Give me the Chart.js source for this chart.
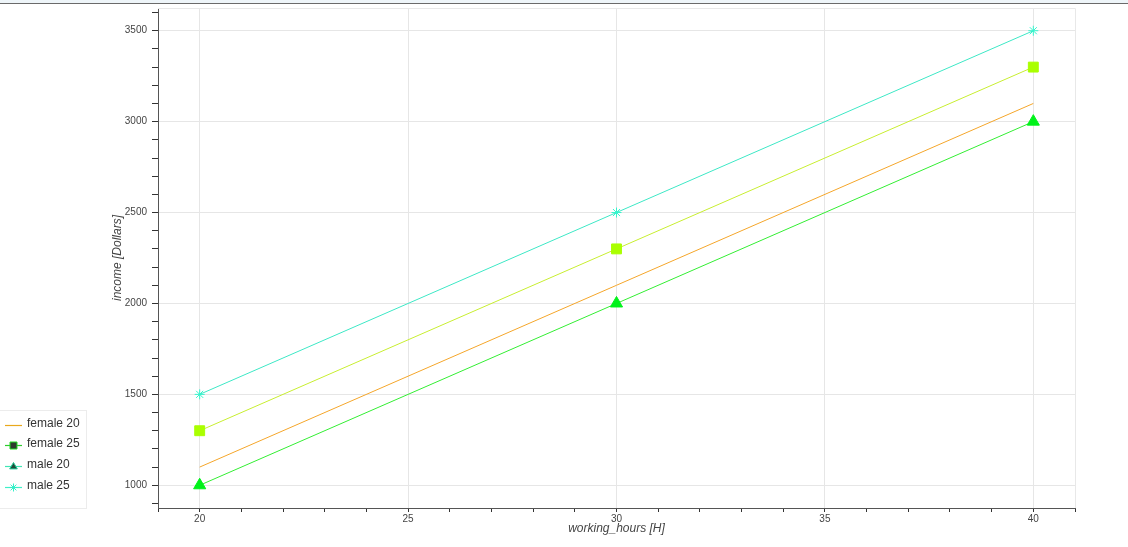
<!DOCTYPE html>
<html>
<head>
<meta charset="utf-8">
<script src="https://cdn.jsdelivr.net/npm/chart.js@4/dist/chart.umd.min.js"></script>
<style>
  html, body { margin: 0; padding: 0; background: #ffffff; }
  #wrap { position: relative; width: 1128px; height: 547px; }
  #topbar { position: absolute; left: 0; top: 0; width: 1128px; height: 3px; background: #eef5f9; border-bottom: 1px solid #6a6a6a; }
  canvas { display: block; }
</style>
</head>
<body>
<div id="wrap">
  <canvas id="c" width="1128" height="547"></canvas>
  <div id="topbar"></div>
</div>
<script>
// ---- data ----
const hours = [20, 30, 40];
const female20 = [1100, 2100, 3100];
const female25 = [1300, 2300, 3300];
const male20 = [1000, 2000, 3000];
const male25 = [1500, 2500, 3500];
const seriesNames = ['female 20', 'female 25', 'male 20', 'male 25'];
const xMajorTicks = [20, 25, 30, 35, 40];
const yMajorTicks = [1000, 1500, 2000, 2500, 3000, 3500];
const xTitle = 'working_hours [H]';
const yTitle = 'income [Dollars]';

const toPts = vals => hours.map((h, i) => ({ x: h, y: vals[i] }));

const FONT = '"Liberation Sans", Arial, Helvetica, sans-serif';

// legend appearance (as drawn in the reference)
const legendStyles = [
  { line: '#e9a81c', marker: null },
  { line: '#2ecc2e', marker: 'rect', fill: '#2f3a2f', stroke: '#22dd22' },
  { line: '#3fe6b4', marker: 'triangle', fill: '#1e4d3a', stroke: '#22cc99' },
  { line: '#3ff0c8', marker: 'star', fill: '#33f0c8', stroke: '#33f0c8' }
];

function drawMarker(ctx, type, x, y, r, fill, stroke) {
  ctx.save();
  ctx.fillStyle = fill; ctx.strokeStyle = stroke; ctx.lineWidth = 1;
  ctx.beginPath();
  if (type === 'rect') {
    ctx.rect(x - r, y - r, 2 * r, 2 * r);
    ctx.fill(); ctx.stroke();
  } else if (type === 'triangle') {
    ctx.moveTo(x, y - r);
    ctx.lineTo(x + r * 0.95, y + r * 0.6);
    ctx.lineTo(x - r * 0.95, y + r * 0.6);
    ctx.closePath();
    ctx.fill(); ctx.stroke();
  } else if (type === 'star') {
    ctx.moveTo(x - r, y); ctx.lineTo(x + r, y);
    ctx.moveTo(x, y - r); ctx.lineTo(x, y + r);
    const d = r * 0.72;
    ctx.moveTo(x - d, y - d); ctx.lineTo(x + d, y + d);
    ctx.moveTo(x - d, y + d); ctx.lineTo(x + d, y - d);
    ctx.stroke();
  }
  ctx.restore();
}

const customLegend = {
  id: 'customLegend',
  afterDraw(chart) {
    const ctx = chart.ctx;
    ctx.save();
    ctx.fillStyle = '#ffffff';
    ctx.fillRect(-1, 410, 88, 98);
    ctx.strokeStyle = '#ececec';
    ctx.lineWidth = 1;
    ctx.strokeRect(-1.5, 410.5, 88, 98);
    const rows = [425, 445, 466, 487];
    ctx.font = '12px ' + FONT;
    ctx.textBaseline = 'middle';
    ctx.textAlign = 'left';
    seriesNames.forEach((name, i) => {
      const y = rows[i];
      const st = legendStyles[i];
      ctx.strokeStyle = st.line;
      ctx.lineWidth = 1.2;
      ctx.beginPath();
      ctx.moveTo(5, y + 0.5); ctx.lineTo(22, y + 0.5);
      ctx.stroke();
      if (st.marker) {
        const r = st.marker === 'rect' ? 3.5 : 4;
        drawMarker(ctx, st.marker, 13.5, y + 0.5, r, st.fill, st.stroke);
      }
      ctx.fillStyle = '#333333';
      ctx.fillText(name, 27, y - 1);
    });
    ctx.restore();
  }
};

const outline = {
  id: 'outline',
  beforeDatasetsDraw(chart) {
    const { ctx, chartArea: a } = chart;
    ctx.save();
    ctx.strokeStyle = '#e8e8e8';
    ctx.lineWidth = 1;
    ctx.beginPath();
    ctx.moveTo(a.left, Math.round(a.top) + 0.5);
    ctx.lineTo(Math.round(a.right) + 0.5, Math.round(a.top) + 0.5);
    ctx.lineTo(Math.round(a.right) + 0.5, a.bottom);
    ctx.stroke();
    ctx.restore();
  }
};

new Chart(document.getElementById('c'), {
  type: 'line',
  data: {
    datasets: [
      {
        label: seriesNames[0], data: toPts(female20),
        borderColor: '#f5a62a', borderWidth: 1, pointRadius: 0, pointHoverRadius: 0
      },
      {
        label: seriesNames[1], data: toPts(female25),
        borderColor: '#c8ee30', borderWidth: 1,
        pointStyle: 'rect', pointRadius: 7, pointBackgroundColor: '#aaff00', pointBorderColor: '#aaff00', pointBorderWidth: 1
      },
      {
        label: seriesNames[2], data: toPts(male20),
        borderColor: '#33ee33', borderWidth: 1,
        pointStyle: 'triangle', pointRadius: 7, pointBackgroundColor: '#00f21a', pointBorderColor: '#00f21a', pointBorderWidth: 1
      },
      {
        label: seriesNames[3], data: toPts(male25),
        borderColor: '#3de8c6', borderWidth: 1,
        pointStyle: 'star', pointRadius: 5, pointBackgroundColor: '#33f5cc', pointBorderColor: '#33f5cc', pointBorderWidth: 1
      }
    ]
  },
  options: {
    responsive: false,
    animation: false,
    devicePixelRatio: 1,
    layout: { padding: { left: 106, right: 53, top: 8, bottom: 0 } },
    plugins: {
      legend: { display: false },
      tooltip: { enabled: false }
    },
    elements: { line: { tension: 0 } },
    scales: {
      x: {
        type: 'linear',
        min: 19, max: 41,
        afterBuildTicks(scale) {
          const t = [];
          for (let v = 19; v <= 41; v++) t.push({ value: v });
          scale.ticks = t;
        },
        afterFit(scale) { scale.height = 39; scale.paddingLeft = 0; scale.paddingRight = 0; },
        ticks: {
          autoSkip: false, maxRotation: 0, padding: 1,
          color: '#444444',
          font: { family: FONT, size: 10 },
          callback: v => (xMajorTicks.includes(v) ? String(v) : '')
        },
        grid: {
          color: c => (c.tick && xMajorTicks.includes(c.tick.value) ? '#e6e6e6' : 'rgba(0,0,0,0)'),
          tickColor: '#333333',
          tickLength: 4,
          lineWidth: 1
        },
        border: { display: true, color: '#555555', width: 1 },
        title: {
          display: true, text: xTitle, color: '#444444',
          font: { family: FONT, size: 12, style: 'italic' },
          padding: { top: 0, bottom: 11 }
        }
      },
      y: {
        type: 'linear',
        min: 875, max: 3625,
        afterBuildTicks(scale) {
          const t = [];
          for (let v = 900; v <= 3600; v += 100) t.push({ value: v });
          scale.ticks = t;
        },
        afterFit(scale) { scale.width = 52; scale.paddingTop = 0; scale.paddingBottom = 0; },
        ticks: {
          autoSkip: false, padding: 5,
          color: '#444444',
          font: { family: FONT, size: 10 },
          callback: v => (yMajorTicks.includes(v) ? String(v) : '')
        },
        grid: {
          color: c => (c.tick && yMajorTicks.includes(c.tick.value) ? '#e6e6e6' : 'rgba(0,0,0,0)'),
          tickColor: '#333333',
          tickLength: 6,
          lineWidth: 1
        },
        border: { display: true, color: '#555555', width: 1 },
        title: {
          display: true, text: yTitle, color: '#444444',
          font: { family: FONT, size: 12, style: 'italic' },
          padding: { top: 4, bottom: 4 }
        }
      }
    }
  },
  plugins: [outline, customLegend]
});
</script>
</body>
</html>
